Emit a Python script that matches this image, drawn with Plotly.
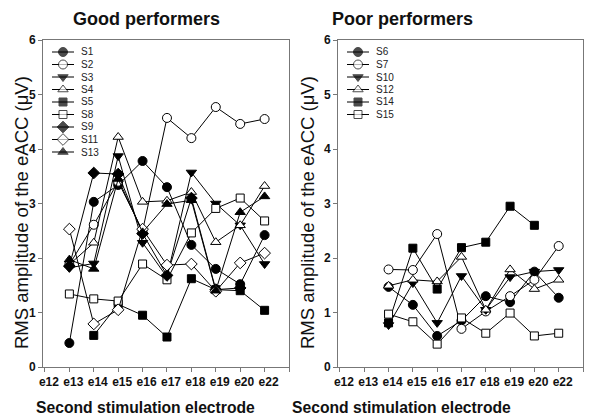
import plotly.graph_objects as go

# page pixels of the 600x419 window; the page body adds an 8 px margin
PAGE_W, PAGE_H = 600, 419
OFF = 8
W, H = PAGE_W - OFF, PAGE_H - OFF

electrodes = ["e12", "e13", "e14", "e15", "e16", "e17", "e18", "e19", "e20", "e22"]

# Good performers
good_names = ["S1", "S2", "S3", "S4", "S5", "S8", "S9", "S11", "S13"]
S1 = [None, 0.44, 3.03, 3.34, 3.78, 3.30, 2.24, 1.80, 1.52, 2.42]
S2 = [None, 1.88, 2.61, 3.40, 2.50, 4.57, 4.20, 4.77, 4.46, 4.55]
S3 = [None, 1.82, 1.90, 3.87, 2.28, 1.65, 3.57, 3.00, 2.60, 1.89]
S4 = [None, 1.88, 2.28, 4.22, 3.03, 3.05, 3.21, 2.29, 2.60, 3.32]
S5 = [None, None, 0.58, 1.15, 0.95, 0.55, 1.62, 1.42, 1.40, 1.04]
S8 = [None, 1.34, 1.25, 1.21, 1.89, 1.60, 2.46, 2.91, 3.10, 2.68]
S9 = [None, 1.85, 3.56, 3.54, 2.45, 1.68, 3.10, 1.42, 1.45, None]
S11 = [None, 2.53, 0.79, 1.05, 2.53, 1.87, 1.89, 1.39, 1.91, 2.09]
S13 = [None, 1.97, 1.80, 3.45, 2.47, 2.99, 3.06, 1.40, 2.84, 3.13]
good_values = [S1, S2, S3, S4, S5, S8, S9, S11, S13]
good_symbols = ["circle", "circle", "triangle-down", "triangle-up", "square",
                "square", "diamond", "diamond", "triangle-up"]
good_filled = [True, False, True, False, True, False, True, False, True]

# Poor performers
poor_names = ["S6", "S7", "S10", "S12", "S14", "S15"]
S6 = [None, None, 1.47, 1.14, 0.57, 0.85, 1.30, 1.19, 1.75, 1.27]
S7 = [None, None, 1.79, 1.78, 2.44, 0.70, 1.02, 1.30, 1.60, 2.22]
S10 = [None, None, 0.77, 1.54, 0.81, 1.67, 1.05, 1.65, 1.75, 1.78]
S12 = [None, None, 1.49, 1.60, 1.57, 2.02, 1.05, 1.79, 1.43, 1.60]
S14 = [None, None, 0.81, 2.18, 1.43, 2.19, 2.29, 2.95, 2.60, None]
S15 = [None, None, 0.97, 0.83, 0.42, 0.90, 0.62, 0.99, 0.57, 0.62]
poor_values = [S6, S7, S10, S12, S14, S15]
poor_symbols = ["circle", "circle", "triangle-down", "triangle-up", "square", "square"]
poor_filled = [True, False, True, False, True, False]

y_ticks = [0, 1, 2, 3, 4, 5, 6]

FONT = "Arial, Liberation Sans, sans-serif"
sym_size = {"circle": 9, "square": 8, "triangle-up": 9, "triangle-down": 9, "diamond": 9}


def fx(p):  # page x pixel -> paper fraction
    return (p - OFF) / W


def fy(p):  # page y pixel -> paper fraction
    return 1 - (p - OFF) / H


fig = go.Figure()
xs = list(range(len(electrodes)))


def add_series(names, values, symbols, filled, xa, ya):
    for n, v, s, f in zip(names, values, symbols, filled):
        fig.add_trace(go.Scatter(
            x=xs, y=v, name=n, mode="lines+markers", xaxis=xa, yaxis=ya,
            line=dict(color="black", width=1),
            marker=dict(symbol=s, size=sym_size[s],
                        color="black" if f else "white",
                        line=dict(color="black", width=1)),
            showlegend=False, cliponaxis=False))


add_series(good_names, good_values, good_symbols, good_filled, "x", "y")
add_series(poor_names, poor_values, poor_symbols, poor_filled, "x2", "y2")


# manual legends (layout positions in page pixels via an overlay axis)
def add_legend(names, symbols, filled, x0, y0, step=12.5):
    for i, (n, s, f) in enumerate(zip(names, symbols, filled)):
        yy = y0 + step * i
        fig.add_trace(go.Scatter(
            x=[x0, x0 + 11, x0 + 22], y=[yy, yy, yy], mode="lines+markers",
            xaxis="x3", yaxis="y3", showlegend=False, hoverinfo="skip",
            line=dict(color="black", width=1),
            marker=dict(symbol=s, size=[0, sym_size[s], 0],
                        color="black" if f else "white",
                        line=dict(color="black", width=[0, 1, 0])),
            cliponaxis=False))
        fig.add_annotation(x=fx(x0 + 27), y=fy(yy), xref="paper", yref="paper",
                           text=n, showarrow=False, xanchor="left", yanchor="middle",
                           font=dict(family=FONT, size=10, color="#222"))


add_legend(good_names, good_symbols, good_filled, 52, 52)
add_legend(poor_names, poor_symbols, poor_filled, 347, 52)

axis_common = dict(
    showline=True, linecolor="#777", linewidth=1, mirror=True, automargin=False,
    showgrid=False, zeroline=False, ticks="outside", ticklen=4,
    tickcolor="#777", tickfont=dict(family=FONT, size=12, color="#111", weight="bold"),
)

xaxis = dict(axis_common, domain=[fx(43), fx(289)], range=[-0.08, 10],
             tickmode="array", tickvals=list(range(11)),
             ticktext=electrodes + [""], ticklabelshift=4, anchor="y")
yaxis = dict(axis_common, domain=[fy(367), fy(40)], range=[0, 6], tickmode="array",
             tickvals=y_ticks, anchor="x")
fig.update_layout(
    xaxis=xaxis,
    yaxis=yaxis,
    xaxis2=dict(xaxis, domain=[fx(338), fx(583)], anchor="y2"),
    yaxis2=dict(yaxis, anchor="x2"),
    xaxis3=dict(domain=[0, 1], range=[OFF, PAGE_W], visible=False, fixedrange=True,
                anchor="y3", automargin=False),
    yaxis3=dict(domain=[0, 1], range=[PAGE_H, OFF], visible=False, fixedrange=True,
                anchor="x3", automargin=False),
)

titles = [("Good performers", 146), ("Poor performers", 402)]
for t, tx in titles:
    fig.add_annotation(x=fx(tx), y=fy(OFF), xref="paper", yref="paper", text=t,
                       showarrow=False, xanchor="center", yanchor="top", borderpad=0,
                       font=dict(family=FONT, size=18, color="#111", weight="bold"))
    fig.add_annotation(x=fx(tx - 1), y=fy(407), xref="paper", yref="paper",
                       text="Second stimulation electrode", showarrow=False,
                       xanchor="center", yanchor="middle",
                       font=dict(family=FONT, size=15.7, color="#111", weight="bold"))

for yx in (22, 308):
    fig.add_annotation(x=fx(yx), y=fy(213), xref="paper", yref="paper",
                       text="RMS amplitude of the eACC (μV)", textangle=-90,
                       showarrow=False, xanchor="center", yanchor="middle",
                       font=dict(family=FONT, size=18.5, color="#111"))

fig.update_layout(width=W, height=H,
                  margin=dict(l=0, r=0, t=0, b=0, pad=0, autoexpand=False),
                  paper_bgcolor="white", plot_bgcolor="rgba(0,0,0,0)", showlegend=False)

fig.write_html("out.html")
